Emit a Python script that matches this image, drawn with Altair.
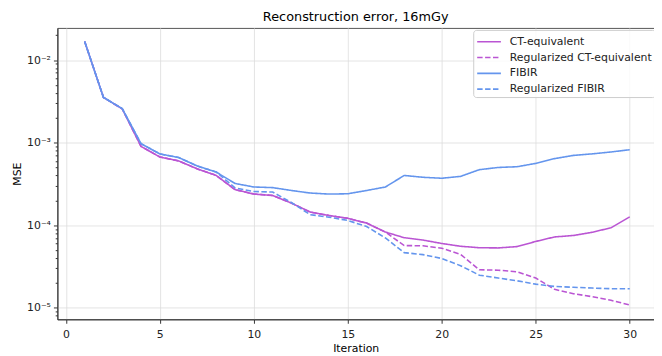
import altair as alt
import pandas as pd

iterations = list(range(1, 31))

ct_equivalent = [0.0168, 0.00353, 0.00256, 0.00090, 0.00067, 0.00060, 0.00048, 0.00040,
                 0.00027, 0.000238, 0.000229, 0.000185, 0.000144, 0.000131, 0.000121,
                 0.000106, 0.0000825, 0.0000705, 0.000066, 0.000060, 0.0000555, 0.0000533,
                 0.0000530, 0.000055, 0.0000635, 0.000072, 0.000075, 0.000082, 0.000093,
                 0.000126]

reg_ct_equivalent = ct_equivalent[:17] + [0.0000566, 0.0000563, 0.0000525, 0.0000443,
                                          0.0000288, 0.0000285, 0.0000272, 0.0000229,
                                          0.0000167, 0.0000148, 0.0000136, 0.0000123,
                                          0.0000108]

fibir = [0.0168, 0.00353, 0.00258, 0.00097, 0.00073, 0.00066, 0.00052, 0.00044,
         0.00032, 0.00029, 0.000285, 0.000263, 0.000245, 0.000238, 0.00024,
         0.000263, 0.00029, 0.00040, 0.00038, 0.00037, 0.00039, 0.00047,
         0.00050, 0.00051, 0.00056, 0.00064, 0.00070, 0.00073, 0.00077, 0.00082]

reg_fibir = fibir[:8] + [0.000283, 0.000256, 0.000252, 0.000188, 0.000134, 0.000125,
                         0.000114, 0.0000963, 0.000070, 0.0000465, 0.000044, 0.0000395,
                         0.0000323, 0.0000248, 0.0000229, 0.0000212, 0.0000193,
                         0.0000181, 0.0000177, 0.0000173, 0.000017, 0.000017]

methods = ["CT-equivalent", "Regularized CT-equivalent", "FIBIR", "Regularized FIBIR"]
series = [ct_equivalent, reg_ct_equivalent, fibir, reg_fibir]
colors = ["#BA55D3", "#BA55D3", "#6495ED", "#6495ED"]
dashes = [[1, 0], [5.5, 2.5], [1, 0], [5.5, 2.5]]

rows = []
for k, (m, vals) in enumerate(zip(methods, series)):
    for it, v in zip(iterations, vals):
        rows.append({"Iteration": it, "MSE": v, "Method": m, "k": k})
df = pd.DataFrame(rows)

x_ticks = [0, 5, 10, 15, 20, 25, 30]
major_y = [1e-5, 1e-4, 1e-3, 1e-2]
major_labels = ["10⁻⁵", "10⁻⁴", "10⁻³", "10⁻²"]
y_ticks = []
for d in range(-6, -1):
    for m in range(1, 10):
        v = float(f"{m}e{d}")
        if 7.3e-6 <= v <= 0.0244:
            y_ticks.append(v)

major_test = "indexof([" + ",".join(repr(v) for v in major_y) + "], datum.value) >= 0"
label_expr = " : ".join(f"datum.value == {repr(v)} ? '{lab}'" for v, lab in zip(major_y, major_labels)) + " : ''"

FONT = "DejaVu Sans"

chart = alt.Chart(df).mark_line(strokeWidth=1.6).encode(
    x=alt.X("Iteration:Q",
            scale=alt.Scale(domain=[-0.45, 31.29], nice=False, zero=False),
            axis=alt.Axis(values=x_ticks, title="Iteration", tickSize=4, labelPadding=5,
                          titlePadding=4, grid=True)),
    y=alt.Y("MSE:Q",
            scale=alt.Scale(type="log", domain=[7.24e-6, 0.0245], nice=False),
            axis=alt.Axis(values=y_ticks, title="MSE", labelExpr=label_expr,
                          tickSize={"condition": {"test": major_test, "value": 4}, "value": 2.2},
                          gridOpacity={"condition": {"test": major_test, "value": 1}, "value": 0},
                          labelPadding=3, titlePadding=4, grid=True)),
    color=alt.Color("Method:N", scale=alt.Scale(domain=methods, range=colors),
                    sort=methods, title=None),
    strokeDash=alt.StrokeDash("Method:N", scale=alt.Scale(domain=methods, range=dashes),
                              sort=methods, title=None),
    order=alt.Order("Iteration:Q"),
).properties(
    width=604,
    height=295,
    title=alt.TitleParams("Reconstruction error, 16mGy", fontSize=13, font=FONT,
                          fontWeight="normal", offset=4, frame="group", anchor="middle",
                          color="#000000"),
    autosize=alt.AutoSizeParams(type="none"),
    padding={"left": 50, "top": 18, "right": 0, "bottom": 36},
).configure_axis(
    labelFont=FONT, titleFont=FONT, labelFontSize=11, titleFontSize=11,
    labelColor="#222222", titleColor="#000000", titleFontWeight="normal",
    gridColor="#dddddd", gridWidth=0.8, domainColor="#333333", tickColor="#333333",
    domainWidth=1,
).configure_view(
    stroke="#555555", strokeWidth=1,
).configure_legend(
    orient="none", legendX=421, legendY=2,
    labelFont=FONT, labelFontSize=11, labelColor="#222222", labelLimit=300,
    symbolType="M-1,0H2", symbolSize=256, symbolStrokeWidth=1.6,
    labelOffset=16, rowPadding=2, padding=3,
    strokeColor="#cccccc", fillColor="rgba(255,255,255,0.8)", cornerRadius=3,
)

chart.save("out.html", embed_options={"renderer": "svg", "actions": False})
